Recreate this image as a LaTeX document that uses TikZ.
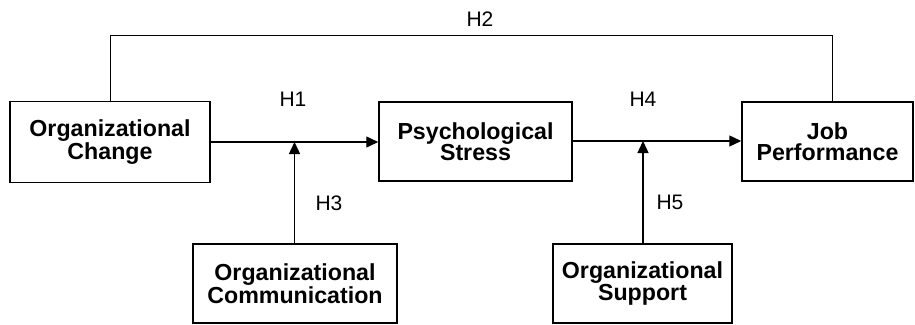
\documentclass[tikz,border=0pt]{standalone}
\usepackage{fontspec}
\setmainfont{Liberation Sans}
\usetikzlibrary{arrows.meta,calc}
\begin{document}
\begin{tikzpicture}[x=1pt,y=-1pt,
  box/.style={draw,line width=1.5pt,rectangle,align=center,inner sep=0pt,
    font=\bfseries\fontsize{23.2}{21.5}\selectfont},
  hlabel/.style={anchor=base,inner sep=0pt,font=\fontsize{21}{21}\selectfont},
  arr/.style={line width=1.4pt,-{Triangle[length=12pt,width=11pt]}},
  link/.style={line width=1pt}]
\useasboundingbox (0,0) rectangle (915,324);
\node[box,minimum width=200pt,minimum height=81pt] (OC) at (110,142) {Organizational\\Change};
\node[box,minimum width=193pt,minimum height=79pt] (PS) at (475.5,141.5) {Psychological\\Stress};
\node[box,minimum width=171pt,minimum height=79pt] (JP) at (827.5,141.5) {Job\\Performance};
\node[box,minimum width=204pt,minimum height=79pt] (COM) at (295,283.5) {Organizational\\Communication};
\node[box,minimum width=179pt,minimum height=79pt] (SUP) at (642.5,283.5) {Organizational\\Support};
\coordinate (m1) at (294.5,142);
\coordinate (m2) at (643,141);
\coordinate (t2) at (832,35);
\draw[arr] (OC.east |- m1) -- (PS.west |- m1);
\draw[arr] (PS.east |- m2) -- (JP.west |- m2);
\draw[arr] (COM.north -| m1) -- (m1);
\draw[arr] (SUP.north -| m2) -- (m2);
\draw[link] (OC.north) |- (t2) -- (t2 |- JP.north);
\node[hlabel] (H1) at (293,106) {H1};
\node[hlabel] (H2) at (480,27) {H2};
\node[hlabel] (H3) at (329,210) {H3};
\node[hlabel] (H4) at (643,106) {H4};
\node[hlabel] (H5) at (670,209) {H5};
\end{tikzpicture}
\end{document}
